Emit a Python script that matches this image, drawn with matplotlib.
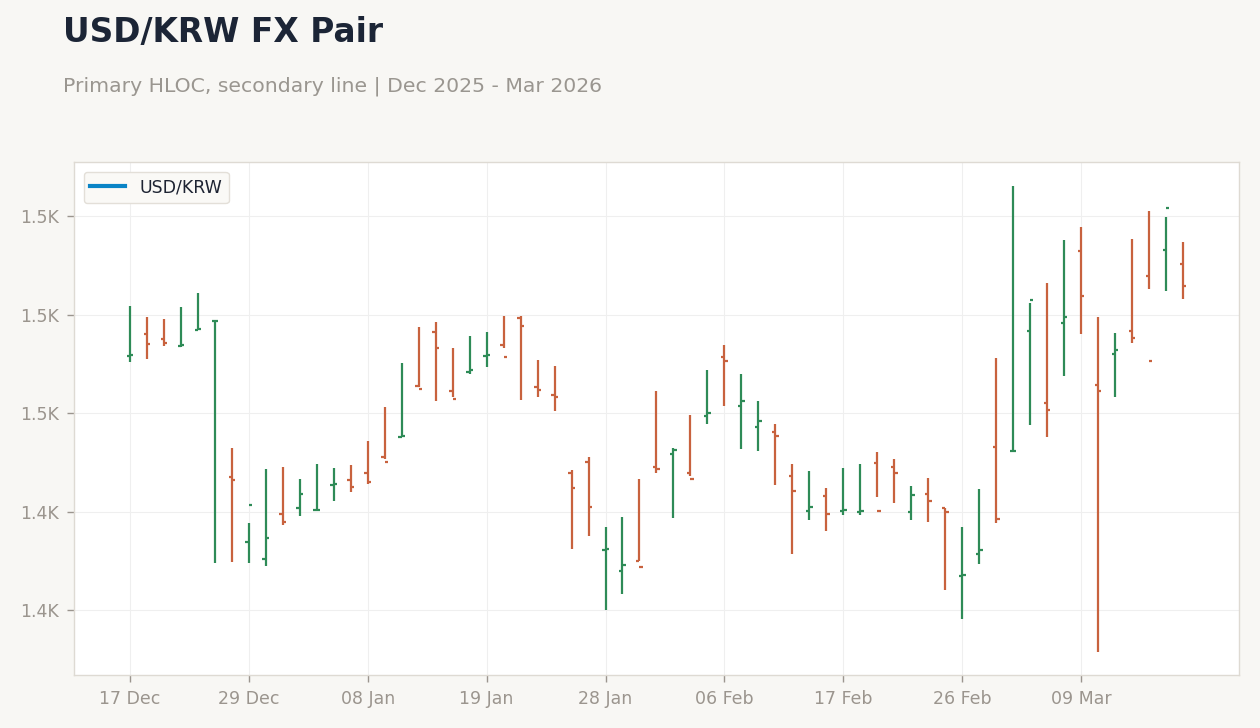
import math
import matplotlib
matplotlib.use("Agg")
import matplotlib.pyplot as plt
import numpy as np
import pandas as pd
from matplotlib.ticker import FuncFormatter

# trading days (Christmas and New Year skipped)
dates = pd.bdate_range("2025-12-17", "2026-03-17", freq="C",
                       holidays=["2025-12-25", "2026-01-01"])

opens = [1464.6, 1470.2, 1468.9, 1467.1, 1471.2, 1473.4, 1433.9, 1417.4, 1413.1, 1424.5,
         1426.0, 1425.4, 1431.9, 1433.1, 1434.7, 1439.0, 1444.0, 1457.0, 1470.7, 1455.5,
         1460.5, 1464.6, 1467.4, 1474.2, 1456.7, 1454.7, 1434.9, 1437.7, 1415.4, 1410.1,
         1412.6, 1436.4, 1439.7, 1434.7, 1449.4, 1464.3, 1451.9, 1446.6, 1445.3, 1434.1,
         1425.3, 1429.1, 1425.3, 1425.0, 1437.4, 1436.4, 1425.0, 1429.6, 1426.0, 1408.8,
         1414.4, 1441.3, 1440.4, 1470.9, 1452.7, 1472.9, 1491.2, 1457.2, 1465.1, 1470.9,
         1484.9, 1491.5, 1487.9]
highs = [1477.2, 1474.4, 1473.9, 1476.9, 1480.5, 1473.6, 1441.2, 1422.1, 1435.8, 1436.3,
         1433.3, 1437.1, 1436.1, 1436.9, 1442.9, 1451.6, 1462.7, 1471.9, 1473.1, 1466.5,
         1469.6, 1470.6, 1474.7, 1474.7, 1463.5, 1462.0, 1435.6, 1438.9, 1421.1, 1423.7,
         1433.3, 1455.6, 1441.2, 1449.5, 1461.0, 1467.3, 1460.0, 1453.2, 1447.3, 1437.1,
         1435.3, 1431.0, 1436.1, 1437.1, 1440.2, 1438.4, 1431.5, 1433.6, 1426.0, 1421.1,
         1430.8, 1464.0, 1507.6, 1477.9, 1483.0, 1493.9, 1497.2, 1474.4, 1470.3, 1494.2,
         1501.3, 1499.7, 1493.4]
lows = [1463.1, 1463.8, 1467.1, 1466.9, 1471.1, 1412.1, 1412.3, 1412.1, 1411.3, 1421.7,
        1423.8, 1425.3, 1427.8, 1430.1, 1432.0, 1438.5, 1443.9, 1456.7, 1453.2, 1454.2,
        1460.0, 1461.8, 1466.6, 1453.3, 1454.2, 1450.6, 1415.6, 1418.9, 1400.1, 1404.2,
        1412.6, 1434.7, 1423.5, 1434.1, 1447.3, 1451.9, 1441.0, 1440.5, 1431.9, 1414.4,
        1423.0, 1420.2, 1424.3, 1424.3, 1428.8, 1427.3, 1423.0, 1422.5, 1405.2, 1397.9,
        1411.8, 1422.2, 1440.4, 1447.1, 1444.0, 1459.3, 1470.2, 1389.5, 1454.2, 1467.9,
        1481.6, 1481.1, 1479.0]
closes = [1464.8, 1467.6, 1467.9, 1467.2, 1471.3, 1473.5, 1433.1, 1426.8, 1418.3, 1422.5,
          1429.6, 1425.5, 1432.0, 1431.4, 1432.5, 1437.6, 1444.1, 1456.1, 1466.4, 1453.6,
          1461.0, 1464.7, 1464.3, 1472.2, 1455.9, 1454.1, 1431.1, 1426.3, 1415.6, 1411.6,
          1411.1, 1435.8, 1440.7, 1433.3, 1450.1, 1463.3, 1453.0, 1448.1, 1444.3, 1430.3,
          1426.3, 1424.5, 1425.4, 1425.1, 1425.3, 1434.7, 1429.3, 1427.8, 1425.0, 1408.9,
          1415.4, 1423.2, 1440.5, 1478.8, 1450.9, 1474.5, 1479.8, 1455.7, 1466.1, 1469.1,
          1463.3, 1502.1, 1482.3]

yticks = [1400, 1425, 1450, 1475, 1500]

up_color = "#2e8b57"
down_color = "#c8623e"
line_color = "#0a84c6"
muted = "#9b958e"

fig = plt.figure(figsize=(12.6, 7.28), dpi=100, facecolor="#f8f7f4")
ax = fig.add_axes([0.0587, 0.0728, 0.9246, 0.7047], facecolor="white")

x = np.arange(len(dates))
o = np.array(opens)
c = np.array(closes)
colors = np.where(c >= o, up_color, down_color)
tick = 0.2

ax.vlines(x, lows, highs, colors=colors, linewidth=1.6, zorder=3)
ax.hlines(o, x - tick, x, colors=colors, linewidth=1.6, zorder=3)
ax.hlines(c, x, x + tick, colors=colors, linewidth=1.6, zorder=3)

# secondary line series (only shows up in the legend)
ax.plot([], [], color=line_color, linewidth=3, label="USD/KRW")

ax.set_xlim(-3.3, 65.3)
ax.set_ylim(1383.6, 1513.7)

xt = x[::7]
ax.set_xticks(xt)
ax.set_xticklabels([dates[i].strftime("%d %b") for i in xt])
ax.set_yticks(yticks)
ax.yaxis.set_major_formatter(FuncFormatter(
    lambda v, p: f"{math.floor(v / 100 + 0.5) / 10:.1f}K"))

ax.grid(True, color="#efefef", linewidth=0.8, zorder=0)
ax.set_axisbelow(True)
for s in ax.spines.values():
    s.set_color("#dedad3")
    s.set_linewidth(1)
ax.tick_params(colors=muted, labelsize=12.5, length=5, width=1, pad=6)

leg = ax.legend(loc="upper left", fontsize=12.5, frameon=True, fancybox=True,
                borderaxespad=0.55, handlelength=2.0)
leg.get_frame().set_facecolor("#faf9f6")
leg.get_frame().set_edgecolor("#e3dfd8")
leg.get_frame().set_alpha(1)
for t in leg.get_texts():
    t.set_color("#1e2433")

fig.text(0.05, 1 - 42 / 728, "USD/KRW FX Pair", fontsize=23.7, fontweight="bold",
         color="#1c2536", va="baseline")
fig.text(0.05, 1 - 92 / 728, "Primary HLOC, secondary line | Dec 2025 - Mar 2026",
         fontsize=14.7, color="#9a9690", va="baseline")

fig.savefig("out.png", dpi=100, facecolor=fig.get_facecolor())
